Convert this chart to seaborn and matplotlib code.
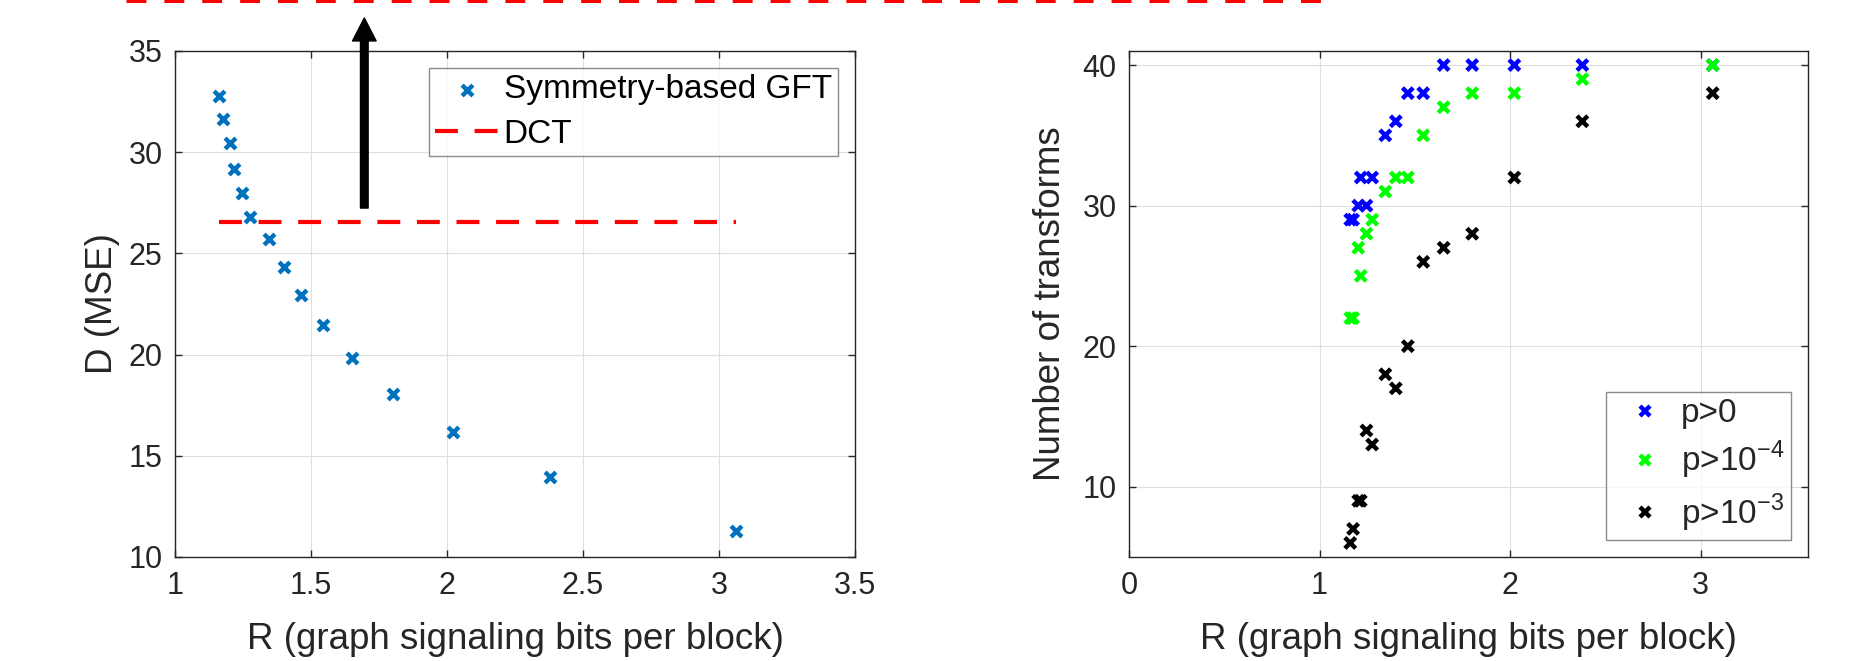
import matplotlib
matplotlib.use("Agg")
import matplotlib.pyplot as plt
from matplotlib.lines import Line2D
import seaborn as sns
import pandas as pd

# ---- data ----
rates = [1.161, 1.176, 1.203, 1.216, 1.246, 1.276, 1.345, 1.400,
         1.463, 1.544, 1.651, 1.801, 2.022, 2.379, 3.063]
mse_gft = [32.79, 31.64, 30.47, 29.17, 28.00, 26.81, 25.70, 24.34,
           22.93, 21.46, 19.82, 18.07, 16.16, 13.95, 11.28]
mse_dct = 26.55

n_p0 = [29, 29, 30, 32, 30, 32, 35, 36, 38, 38, 40, 40, 40, 40, 40]
n_p4 = [22, 22, 27, 25, 28, 29, 31, 32, 32, 35, 37, 38, 38, 39, 40]
n_p3 = [6, 7, 9, 9, 14, 13, 18, 17, 20, 26, 27, 28, 32, 36, 38]
thr_labels = ["p>0", "p>10$^{-4}$", "p>10$^{-3}$"]
thr_colors = ["#0000ff", "#00ff00", "#000000"]

arrow_r = 1.696
arrow_from, arrow_to = 27.24, 36.63

# ---- style ----
sns.set_style("ticks")
plt.rcParams["font.family"] = ["Liberation Sans", "DejaVu Sans"]
plt.rcParams["mathtext.fontset"] = "custom"
plt.rcParams["mathtext.rm"] = "Liberation Sans"
ink = "#262626"
plt.rcParams.update({
    "axes.edgecolor": ink, "axes.linewidth": 1.0,
    "xtick.color": ink, "ytick.color": ink,
    "xtick.direction": "in", "ytick.direction": "in",
    "xtick.major.size": 5, "ytick.major.size": 5,
    "xtick.major.width": 1.0, "ytick.major.width": 1.0,
    "xtick.major.pad": 10, "ytick.major.pad": 9,
    "xtick.labelsize": 22, "ytick.labelsize": 22,
    "axes.labelcolor": ink, "axes.labelsize": 26.5,
    "xtick.top": True, "ytick.right": True,
    "grid.color": "#dedede", "grid.linewidth": 0.8,
})

fig = plt.figure(figsize=(18.63, 6.61), dpi=100)
ax1 = fig.add_axes([175 / 1863, 104 / 661, 680 / 1863, 506 / 661])
ax2 = fig.add_axes([1129 / 1863, 104 / 661, 679 / 1863, 506 / 661])

# ---- left: rate-distortion ----
sns.scatterplot(x=rates, y=mse_gft, ax=ax1, marker="x", s=60, linewidth=3.2,
                color="#0072bd", label="Symmetry-based GFT", zorder=3)
sns.lineplot(x=[min(rates), max(rates)], y=[mse_dct, mse_dct], ax=ax1,
             color="#ff0000", linewidth=3.0, dashes=(5.5, 4.0), label="DCT",
             zorder=2)
ax1.set_xlim(1, 3.5)
ax1.set_ylim(10, 35)
ax1.set_xticks([1, 1.5, 2, 2.5, 3, 3.5])
ax1.set_xticklabels(["1", "1.5", "2", "2.5", "3", "3.5"])
ax1.set_yticks([10, 15, 20, 25, 30, 35])
ax1.grid(True)
ax1.set_xlabel("R (graph signaling bits per block)", labelpad=15)
ax1.set_ylabel("D (MSE)", labelpad=6)
leg1 = ax1.legend(loc="upper right", fontsize=24, frameon=True, fancybox=False,
                  edgecolor="#6e6e6e", borderpad=0.2, labelspacing=0.4,
                  handlelength=1.9, handletextpad=0.15, borderaxespad=0.5)
leg1.get_frame().set_linewidth(1.0)
for t in leg1.get_texts():
    t.set_color("black")

ax1.annotate("", xy=(arrow_r, arrow_to), xytext=(arrow_r, arrow_from),
             xycoords="data", annotation_clip=False,
             arrowprops=dict(width=5.5, headwidth=17, headlength=16.5,
                             color="black", shrink=0))

# ---- right: number of transforms ----
df = pd.DataFrame({
    "rate": rates * 3,
    "count": n_p0 + n_p4 + n_p3,
    "thr": [thr_labels[0]] * len(rates) + [thr_labels[1]] * len(rates)
           + [thr_labels[2]] * len(rates),
})
sns.scatterplot(data=df, x="rate", y="count", hue="thr", hue_order=thr_labels,
                palette=dict(zip(thr_labels, thr_colors)), ax=ax2,
                marker="x", s=60, linewidth=3.2, zorder=3)
ax2.set_xlim(0, max(rates) + 0.5)
ax2.set_ylim(5, 41)
ax2.set_xticks([0, 1, 2, 3])
ax2.set_yticks([10, 20, 30, 40])
ax2.grid(True)
ax2.set_xlabel("R (graph signaling bits per block)", labelpad=15)
ax2.set_ylabel("Number of transforms", labelpad=10)
h, l = ax2.get_legend_handles_labels()
leg2 = ax2.legend(h, l, loc="lower right", fontsize=24, frameon=True,
                  fancybox=False, edgecolor="#6e6e6e", borderpad=0.2,
                  labelspacing=0.3, handlelength=1.9, handletextpad=0.15,
                  borderaxespad=0.5)
leg2.get_frame().set_linewidth(1.0)

# red dashed line cut off at the very top of the picture
fig.add_artist(Line2D([126 / 1863, 1325 / 1863], [1 - 0.5 / 661, 1 - 0.5 / 661],
                      transform=fig.transFigure, color="#ff0000", linewidth=2.2,
                      dashes=(6.5, 5.9)))

fig.savefig("out.png", dpi=100, facecolor="white")
